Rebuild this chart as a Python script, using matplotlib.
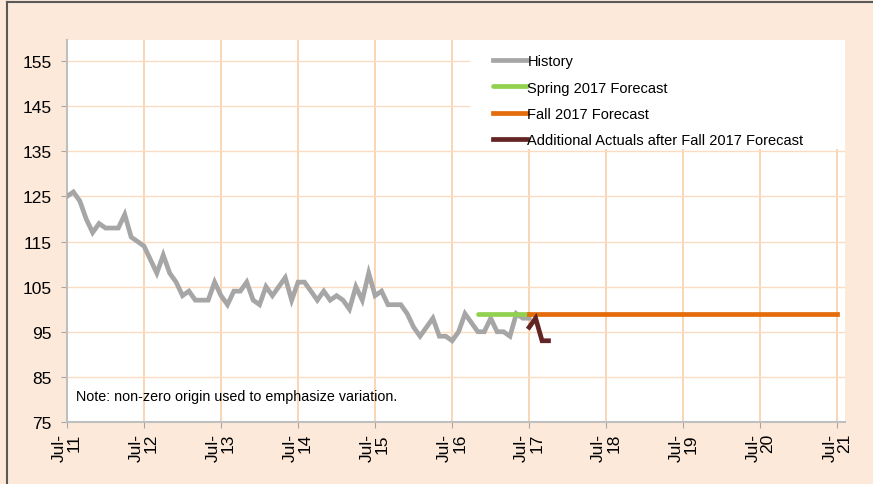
import matplotlib
matplotlib.use("Agg")
import matplotlib.pyplot as plt
from matplotlib.lines import Line2D
from matplotlib.patches import Rectangle

plt.rcParams["font.family"] = ["Liberation Sans", "DejaVu Sans"]

# months counted from Jul-11
history = [125, 126, 124, 120, 117, 119, 118, 118, 118, 121, 116, 115,
           114, 111, 108, 112, 108, 106, 103, 104, 102, 102, 102, 106,
           103, 101, 104, 104, 106, 102, 101, 105, 103, 105, 107, 102,
           106, 106, 104, 102, 104, 102, 103, 102, 100, 105, 102, 108,
           103, 104, 101, 101, 101, 99, 96, 94, 96, 98, 94, 94,
           93, 95, 99, 97, 95, 95, 98, 95, 95, 94, 99, 98,
           98]
spring_months = [64, 72]
spring_values = [99, 99]
fall_months = [72, 120]
fall_values = [99, 99]
actual_months = [72, 73, 74, 75]
actual_values = [96, 98, 93, 93]

year_labels = ["11", "12", "13", "14", "15", "16", "17", "18", "19", "20", "21"]
y_ticks = [75, 85, 95, 105, 115, 125, 135, 145, 155]

fig = plt.figure(figsize=(8.73, 4.85), dpi=100, facecolor="#FCE9DA")
ax = fig.add_axes([0.0767, 0.128, 0.8913, 0.7875])
ax.set_facecolor("white")

ax.plot(range(len(history)), history, color="#A6A6A6", lw=3.4,
        solid_joinstyle="miter", label="History", zorder=3)
ax.plot(spring_months, spring_values, color="#92D050", lw=3.4,
        solid_capstyle="round", label="Spring 2017 Forecast", zorder=3)
ax.plot(fall_months, fall_values, color="#E46C0A", lw=3.4,
        label="Fall 2017 Forecast", zorder=4)
ax.plot(actual_months, actual_values, color="#632523", lw=3.4,
        solid_joinstyle="miter", label="Additional Actuals after Fall 2017 Forecast",
        zorder=5)

ax.set_xlim(0, 121.2)
ax.set_ylim(75, 159.7)
ax.set_xticks([12 * i for i in range(len(year_labels))])
ax.set_xticklabels(["Jul-\n" + y for y in year_labels], rotation=90,
                   ha="center", va="top", ma="right", linespacing=1.0)
ax.set_yticks(y_ticks)

ax.set_axisbelow(True)
ax.xaxis.grid(True, color="#F9D2AE", lw=1.3)
ax.yaxis.grid(True, color="#FBDCC3", lw=1.0)
for s in ["top", "right"]:
    ax.spines[s].set_visible(False)
for s in ["left", "bottom"]:
    ax.spines[s].set_color("#BFBFBF")
    ax.spines[s].set_linewidth(1.5)
ax.tick_params(axis="both", colors="#A6A6A6", labelcolor="black", labelsize=12.5)
ax.tick_params(axis="x", length=4, pad=4)
ax.tick_params(axis="y", length=4.5, pad=6.5)

# white box behind the legend hides the grid
ax.add_patch(Rectangle((0.518, 0.715), 0.482, 0.285, transform=ax.transAxes,
                       facecolor="white", edgecolor="none", zorder=1))
ax.legend(loc="upper left", bbox_to_anchor=(0.5476, 0.962), frameon=False,
          fontsize=10.5, handlelength=2.35, handletextpad=0.0, labelspacing=0.83,
          borderpad=0, borderaxespad=0)

ax.text(1.4, 80.8, "Note: non-zero origin used to emphasize variation.",
        fontsize=10.3, va="center", ha="left")

# outer frame (left and top edges)
fig.add_artist(Line2D([0.0075, 0.0075], [0, 0.994], color="#595959", lw=1.5))
fig.add_artist(Line2D([0.0075, 1.0], [0.994, 0.994], color="#595959", lw=1.5))

fig.savefig("out.png", dpi=100, facecolor=fig.get_facecolor())
